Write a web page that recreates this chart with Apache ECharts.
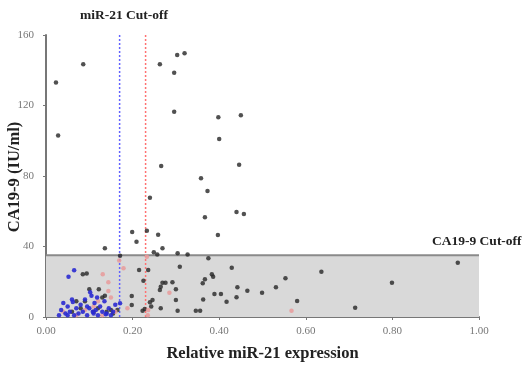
<!DOCTYPE html>
<html><head><meta charset="utf-8">
<script src="https://cdn.jsdelivr.net/npm/echarts@6/dist/echarts.min.js"></script>
<style>html,body{margin:0;padding:0;background:#fff}#c{width:524px;height:367px}</style>
</head><body><div id="c"></div>
<script>
const xTicks = ['0.00','0.20','0.40','0.60','0.80','1.00'];
const yTicks = [0,40,80,120,160];
const caCutoff = 35;
const mirCutBlue = 0.17;
const mirCutRed = 0.23;
const blackPts = [
 [0.023,133],[0.028,103],[0.086,143.4],[0.263,143.4],[0.296,138.6],[0.303,148.7],[0.32,149.6],[0.296,116.5],
 [0.398,113.3],[0.45,114.4],[0.4,101],[0.446,86.4],[0.266,85.7],[0.358,78.7],[0.373,71.5],[0.24,67.7],
 [0.44,59.6],[0.457,58.4],[0.367,56.6],[0.397,46.5],[0.199,48.2],[0.233,49],[0.259,46.7],[0.209,42.7],
 [0.136,39],[0.269,39],[0.249,36.7],[0.257,35.4],[0.304,36.1],[0.327,35.4],[0.375,33.3],[0.171,34.8],
 [0.309,28.5],[0.215,26.7],[0.236,26.7],[0.225,20.6],[0.269,19.5],[0.276,19.5],[0.292,19.7],[0.265,17.2],
 [0.263,15.3],[0.300,15.7],[0.300,9.6],[0.246,9.6],[0.240,8.3],[0.265,4.9],[0.304,3.6],[0.346,3.6],
 [0.356,3.6],[0.223,3.6],[0.198,11.9],[0.198,6.8],[0.383,24.2],[0.386,22.9],[0.362,19.1],[0.367,21.4],
 [0.363,10],[0.389,13],[0.404,13],[0.417,8.7],[0.429,28],[0.442,16.9],[0.465,14.9],[0.440,11.2],
 [0.951,30.8],[0.636,25.7],[0.553,22],[0.531,16.9],[0.499,13.8],[0.799,19.5],[0.580,9.1],[0.714,5.3],
 [0.085,24.2],[0.094,24.7],[0.1,15.7],[0.122,15.7],[0.136,12.1],[0.14,3],[0.15,4],[0.11,3],
 [0.08,5],[0.12,5],[0.13,11],[0.09,9],[0.07,9],[0.06,3],[0.155,2],[0.165,4],[0.228,4.5],[0.243,6]
];
const bluePts = [
 [0.035,4],[0.04,8],[0.045,2],[0.05,6],[0.055,3],[0.06,10],[0.065,1],[0.07,5],[0.075,2],[0.08,7],
 [0.085,3],[0.09,10],[0.095,1],[0.1,5],[0.105,12],[0.11,2],[0.112,8],[0.115,4],[0.12,1],[0.125,6],
 [0.13,3],[0.135,9],[0.14,2],[0.145,5],[0.15,1],[0.155,3],[0.16,7],[0.03,1],[0.05,1],[0.062,8.5],
 [0.102,14],[0.118,11],[0.095,6],[0.108,3],[0.138,1.5],[0.171,7.8],[0.052,22.9],[0.065,26.5]
];
const redPts = [
 [0.131,24.2],[0.144,19.7],[0.144,14.7],[0.169,32],[0.179,27.6],[0.188,4.9],[0.233,34.2],[0.236,4],
 [0.285,13.8],[0.567,3.6],[0.04,3],[0.07,1],[0.09,4],[0.12,9],[0.13,1],[0.15,11],[0.16,3],[0.11,6],[0.235,1]
];
const serif = '"Liberation Serif","DejaVu Serif",serif';
const chart = echarts.init(document.getElementById('c'));
chart.setOption({
 animation:false,
 grid:{left:46,right:45,top:35,bottom:50,outerBoundsMode:'none',containLabel:false},
 xAxis:{type:'value',min:0,max:1,interval:0.2,
  axisLine:{lineStyle:{color:'#777',width:2}},
  axisTick:{show:true,length:3,lineStyle:{color:'#777'}},
  splitLine:{show:false},
  axisLabel:{fontFamily:serif,fontSize:11,color:'#777',margin:9,formatter:v=>xTicks[Math.round(v/0.2)]},
  name:'Relative miR-21 expression',nameLocation:'middle',nameGap:28,nameMoveOverlap:false,
  nameTextStyle:{fontFamily:serif,fontSize:16.5,fontWeight:'bold',color:'#222'}},
 yAxis:{type:'value',min:0,max:160,interval:40,
  axisLine:{show:true,lineStyle:{color:'#777',width:2}},
  axisTick:{show:true,length:3,lineStyle:{color:'#777'}},
  splitLine:{show:false},
  axisLabel:{fontFamily:serif,fontSize:11,color:'#777',margin:12,formatter:v=>yTicks.includes(v)?String(v):''}},
 series:[
  {type:'scatter',name:'band',data:[],z:1,
   markArea:{silent:true,itemStyle:{color:'#d9d9d9'},data:[[{coord:[0,0]},{coord:[1,caCutoff]}]]}
  },
  {type:'line',name:'caLine',data:[[0,caCutoff],[1,caCutoff]],symbol:'none',z:2,silent:true,
   lineStyle:{color:'#8a8a8a',width:2,type:'solid'}},
  {type:'line',name:'blueLine',data:[[mirCutBlue,0],[mirCutBlue,160]],symbol:'none',z:3,silent:true,
   itemStyle:{color:'#6262ff'},lineStyle:{color:'#6262ff',width:1.5,type:[2,2]}},
  {type:'line',name:'redLine',data:[[mirCutRed,0],[mirCutRed,160]],symbol:'none',z:3,silent:true,
   itemStyle:{color:'#ff7272'},lineStyle:{color:'#ff7272',width:1.5,type:[2,2]}},
  {type:'scatter',name:'black',data:blackPts,symbol:'circle',symbolSize:4.5,z:5,itemStyle:{color:'#262626'}},
  {type:'scatter',name:'red',data:redPts,symbol:'circle',symbolSize:4.5,z:6,itemStyle:{color:'#e89a9a',opacity:0.85}},
  {type:'scatter',name:'blue',data:bluePts,symbol:'circle',symbolSize:4.5,z:7,itemStyle:{color:'#2a2ad0',opacity:0.9}}
 ],
 graphic:[
  {type:'text',left:80,top:9,style:{text:'miR-21 Cut-off',font:'bold 13.5px '+serif,fill:'#222'}},
  {type:'text',left:432,top:235,style:{text:'CA19-9 Cut-off',font:'bold 13.5px '+serif,fill:'#222'}},
  {type:'text',x:15,y:177,rotation:Math.PI/2,style:{text:'CA19-9 (IU/ml)',font:'bold 16.5px '+serif,fill:'#222',align:'center',verticalAlign:'middle'}}
 ]
});
</script></body></html>
